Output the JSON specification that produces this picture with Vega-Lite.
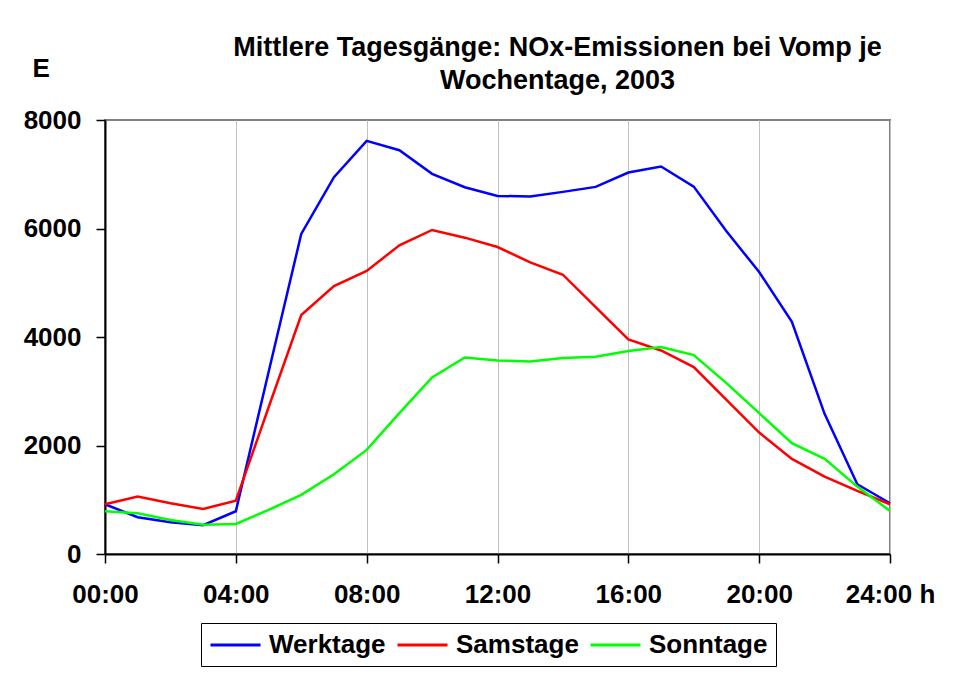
{
  "$schema": "https://vega.github.io/schema/vega-lite/v6.json",
  "autosize": {"type": "none"},
  "padding": {"left": 105, "top": 120, "right": 70, "bottom": 121},
  "width": 785,
  "height": 434,
  "background": "white",
  "title": {
    "text": ["Mittlere Tagesgänge: NOx-Emissionen bei Vomp je", "Wochentage, 2003"],
    "font": "Liberation Sans",
    "fontSize": 27,
    "fontWeight": "bold",
    "color": "black",
    "anchor": "middle",
    "dx": 60,
    "offset": 0,
    "dy": 40,
    "lineHeight": 33
  },
  "data": {
    "values": [
      {"h": 0, "s": "Werktage", "v": 917}, {"h": 1, "s": "Werktage", "v": 677}, {"h": 2, "s": "Werktage", "v": 585}, {"h": 3, "s": "Werktage", "v": 530}, {"h": 4, "s": "Werktage", "v": 788}, {"h": 5, "s": "Werktage", "v": 3350}, {"h": 6, "s": "Werktage", "v": 5900}, {"h": 7, "s": "Werktage", "v": 6945}, {"h": 8, "s": "Werktage", "v": 7615}, {"h": 9, "s": "Werktage", "v": 7443}, {"h": 10, "s": "Werktage", "v": 7007}, {"h": 11, "s": "Werktage", "v": 6760}, {"h": 12, "s": "Werktage", "v": 6601}, {"h": 13, "s": "Werktage", "v": 6588}, {"h": 14, "s": "Werktage", "v": 6675}, {"h": 15, "s": "Werktage", "v": 6767}, {"h": 16, "s": "Werktage", "v": 7031}, {"h": 17, "s": "Werktage", "v": 7142}, {"h": 18, "s": "Werktage", "v": 6773}, {"h": 19, "s": "Werktage", "v": 5948}, {"h": 20, "s": "Werktage", "v": 5198}, {"h": 21, "s": "Werktage", "v": 4281}, {"h": 22, "s": "Werktage", "v": 2583}, {"h": 23, "s": "Werktage", "v": 1286}, {"h": 24, "s": "Werktage", "v": 935},
      {"h": 0, "s": "Samstage", "v": 917}, {"h": 1, "s": "Samstage", "v": 1058}, {"h": 2, "s": "Samstage", "v": 935}, {"h": 3, "s": "Samstage", "v": 830}, {"h": 4, "s": "Samstage", "v": 984}, {"h": 5, "s": "Samstage", "v": 2700}, {"h": 6, "s": "Samstage", "v": 4404}, {"h": 7, "s": "Samstage", "v": 4940}, {"h": 8, "s": "Samstage", "v": 5217}, {"h": 9, "s": "Samstage", "v": 5690}, {"h": 10, "s": "Samstage", "v": 5973}, {"h": 11, "s": "Samstage", "v": 5831}, {"h": 12, "s": "Samstage", "v": 5659}, {"h": 13, "s": "Samstage", "v": 5376}, {"h": 14, "s": "Samstage", "v": 5148}, {"h": 15, "s": "Samstage", "v": 4552}, {"h": 16, "s": "Samstage", "v": 3955}, {"h": 17, "s": "Samstage", "v": 3752}, {"h": 18, "s": "Samstage", "v": 3445}, {"h": 19, "s": "Samstage", "v": 2842}, {"h": 20, "s": "Samstage", "v": 2238}, {"h": 21, "s": "Samstage", "v": 1753}, {"h": 22, "s": "Samstage", "v": 1427}, {"h": 23, "s": "Samstage", "v": 1163}, {"h": 24, "s": "Samstage", "v": 917},
      {"h": 0, "s": "Sonntage", "v": 788}, {"h": 1, "s": "Sonntage", "v": 751}, {"h": 2, "s": "Sonntage", "v": 627}, {"h": 3, "s": "Sonntage", "v": 541}, {"h": 4, "s": "Sonntage", "v": 554}, {"h": 5, "s": "Sonntage", "v": 812}, {"h": 6, "s": "Sonntage", "v": 1089}, {"h": 7, "s": "Sonntage", "v": 1471}, {"h": 8, "s": "Sonntage", "v": 1919}, {"h": 9, "s": "Sonntage", "v": 2596}, {"h": 10, "s": "Sonntage", "v": 3253}, {"h": 11, "s": "Sonntage", "v": 3623}, {"h": 12, "s": "Sonntage", "v": 3567}, {"h": 13, "s": "Sonntage", "v": 3549}, {"h": 14, "s": "Sonntage", "v": 3611}, {"h": 15, "s": "Sonntage", "v": 3635}, {"h": 16, "s": "Sonntage", "v": 3740}, {"h": 17, "s": "Sonntage", "v": 3814}, {"h": 18, "s": "Sonntage", "v": 3667}, {"h": 19, "s": "Sonntage", "v": 3150}, {"h": 20, "s": "Sonntage", "v": 2596}, {"h": 21, "s": "Sonntage", "v": 2043}, {"h": 22, "s": "Sonntage", "v": 1753}, {"h": 23, "s": "Sonntage", "v": 1242}, {"h": 24, "s": "Sonntage", "v": 793}
    ]
  },
  "mark": {"type": "line", "strokeWidth": 2.5},
  "encoding": {
    "x": {
      "field": "h",
      "type": "quantitative",
      "scale": {"domain": [0, 24], "nice": false, "zero": false},
      "axis": {
        "values": [0, 4, 8, 12, 16, 20, 24],
        "labelExpr": "datum.value == 24 ? '24:00 h' : (datum.value < 10 ? '0' : '') + datum.value + ':00'",
        "title": null,
        "grid": true,
        "gridColor": "#c0c0c0",
        "gridWidth": 1,
        "domainColor": "black",
        "domainWidth": 2,
        "tickColor": "black",
        "tickWidth": 1.5,
        "tickSize": 9,
        "labelFont": "Liberation Sans",
        "labelFontSize": 26,
        "labelFontWeight": "bold",
        "labelColor": "black",
        "labelPadding": 18,
        "labelFlush": false,
        "labelOverlap": false
      }
    },
    "y": {
      "field": "v",
      "type": "quantitative",
      "scale": {"domain": [0, 8000], "nice": false},
      "axis": {
        "values": [0, 2000, 4000, 6000, 8000],
        "format": "d",
        "grid": false,
        "title": "E",
        "titleAngle": 0,
        "titleX": -73,
        "titleY": -44,
        "titleAlign": "left",
        "titleBaseline": "alphabetic",
        "titleFont": "Liberation Sans",
        "titleFontSize": 26,
        "titleFontWeight": "bold",
        "titleColor": "black",
        "domainColor": "black",
        "domainWidth": 2,
        "tickColor": "black",
        "tickWidth": 1.5,
        "tickSize": 9,
        "labelFont": "Liberation Sans",
        "labelFontSize": 26,
        "labelFontWeight": "bold",
        "labelColor": "black",
        "labelPadding": 15,
        "labelFlush": false
      }
    },
    "color": {
      "field": "s",
      "type": "nominal",
      "scale": {"domain": ["Werktage", "Samstage", "Sonntage"], "range": ["#0000ff", "#ff0000", "#00ff00"]},
      "legend": {
        "title": null,
        "orient": "none",
        "legendX": 96,
        "legendY": 503,
        "direction": "horizontal",
        "strokeColor": "black",
        "padding": 8,
        "symbolType": "M-2,0H2",
        "symbolSize": 625,
        "symbolStrokeWidth": 3,
        "symbolOffset": 12.5,
        "labelFont": "Liberation Sans",
        "labelFontSize": 26,
        "labelFontWeight": "bold",
        "labelColor": "black",
        "labelOffset": 19.5,
        "columnPadding": 5
      }
    }
  },
  "config": {
    "view": {"stroke": "#808080", "strokeWidth": 2},
    "font": "Liberation Sans"
  }
}
